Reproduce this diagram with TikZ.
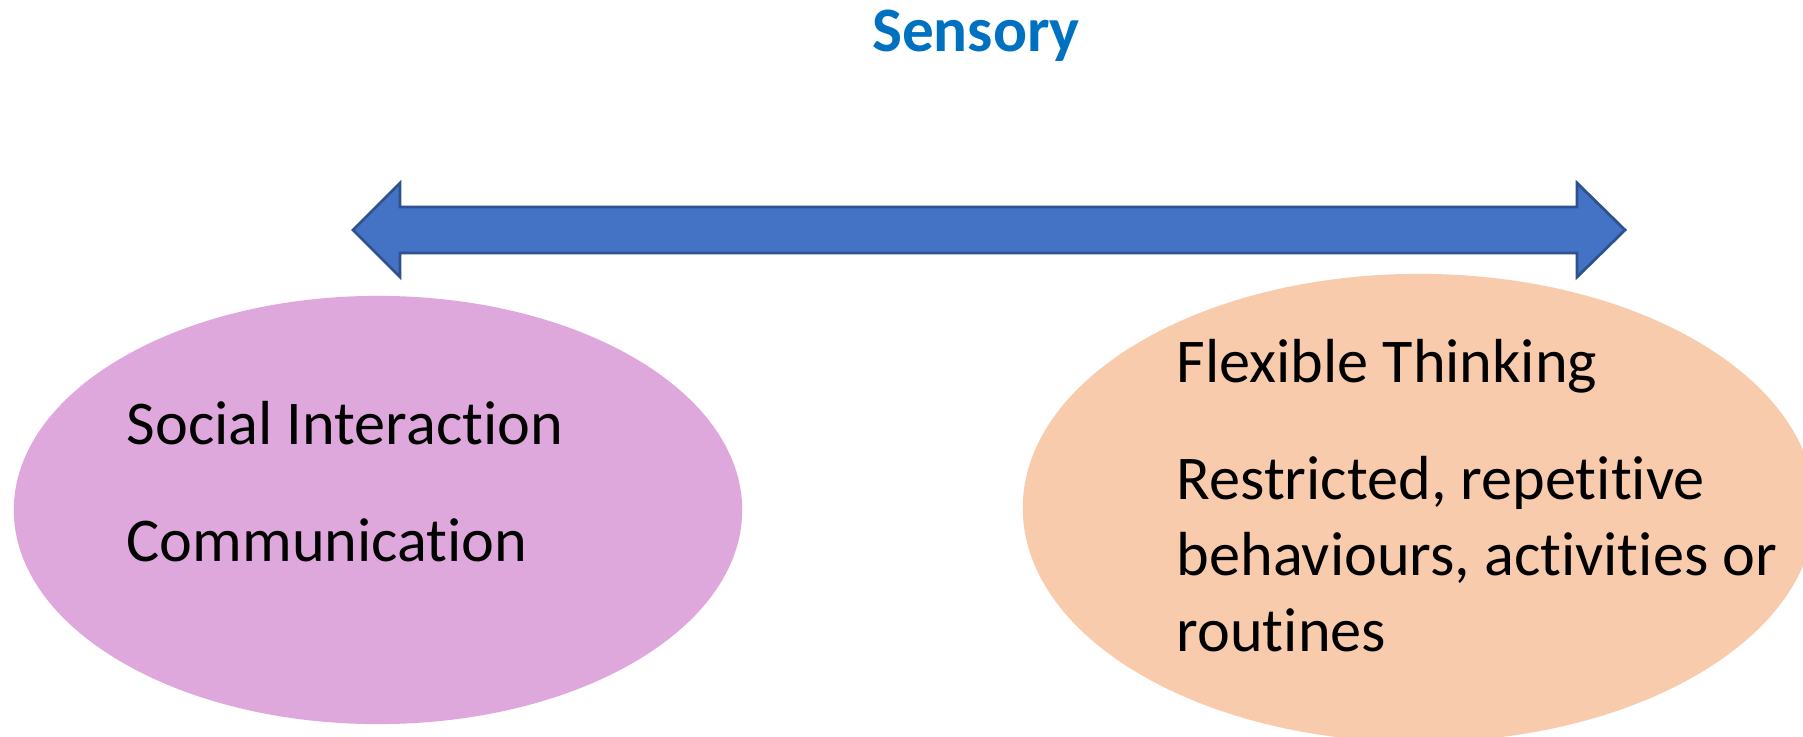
\documentclass[tikz,border=0pt]{standalone}
\usepackage{fontspec}
\setmainfont{Carlito}[RawFeature={-liga,-dlig}]
\usetikzlibrary{shapes.geometric}
\definecolor{arrowblue}{HTML}{4472C4}
\definecolor{arrowedge}{HTML}{2F528F}
\definecolor{plum}{HTML}{DFA8DC}
\definecolor{peach}{HTML}{F8CBAD}
\definecolor{titleblue}{HTML}{0070C0}
\newcommand{\bodysize}{\fontsize{17.7}{21.6}\selectfont}

\begin{document}
\begin{tikzpicture}[x=0.01cm,y=-0.01cm,
    blob/.style={ellipse,inner sep=0pt},
    txt/.style={anchor=base west,inner sep=0pt,font=\bodysize,align=left}]
  \clip (0,0) rectangle (1803,737);
  \fill[white] (0,0) rectangle (1803,737);
  % the two areas
  \node[blob,fill=plum,minimum width=7.28cm,minimum height=4.28cm] (social) at (378,510) {};
  \node[blob,fill=peach,minimum width=7.92cm,minimum height=4.68cm] (flex) at (1419,508) {};
  % spectrum arrow
  \draw[arrowedge,fill=arrowblue,line width=0.8pt,line join=miter]
    (353,230) -- (400,183) -- (400,207) -- (1577,207) -- (1577,183) -- (1625,230)
    -- (1577,277) -- (1577,253) -- (400,253) -- (400,277) -- cycle;
  \node[anchor=base,inner sep=0pt,text=titleblue,font=\fontsize{18}{22}\selectfont\bfseries] (sensory) at (976,52) {Sensory};
  \node[txt] (si) at (126,445) {Social Interaction};
  \node[txt] (comm) at (126,561) {Communication};
  \node[txt] (ft) at (1176,383) {Flexible Thinking};
  % base of a multi-line node sits on its last line
  \node[txt] (rrb) at (1176,651) {Restricted, repetitive\\behaviours, activities or\\routines};
\end{tikzpicture}
\end{document}
